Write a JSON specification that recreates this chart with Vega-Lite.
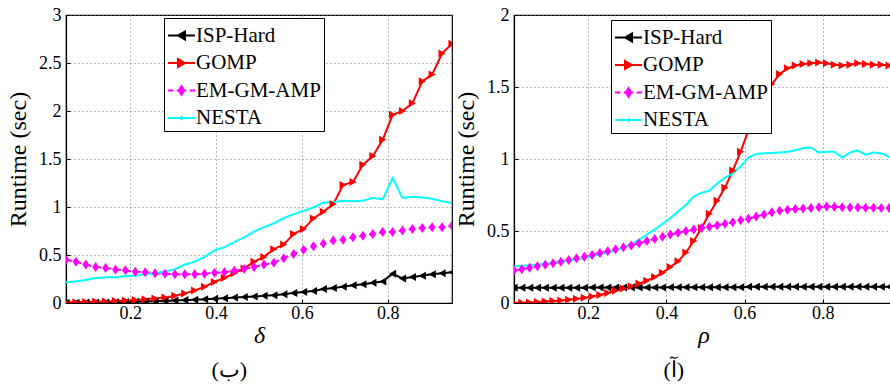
{
  "$schema": "https://vega.github.io/schema/vega-lite/v6.json",
  "padding": {"left": 5, "top": 5, "right": 0, "bottom": 0},
  "bounds": "flush",
  "spacing": 62,
  "background": "white",
  "datasets": {
    "L": [
      {"method":"ISP-Hard","x":0.05,"y":0.003},{"method":"ISP-Hard","x":0.0731,"y":0.003},{"method":"ISP-Hard","x":0.0962,"y":0.004},{"method":"ISP-Hard","x":0.1192,"y":0.005},{"method":"ISP-Hard","x":0.1423,"y":0.006},{"method":"ISP-Hard","x":0.1654,"y":0.008},{"method":"ISP-Hard","x":0.1885,"y":0.010},{"method":"ISP-Hard","x":0.2115,"y":0.013},{"method":"ISP-Hard","x":0.2346,"y":0.016},{"method":"ISP-Hard","x":0.2577,"y":0.019},{"method":"ISP-Hard","x":0.2808,"y":0.022},{"method":"ISP-Hard","x":0.3038,"y":0.026},{"method":"ISP-Hard","x":0.3269,"y":0.030},{"method":"ISP-Hard","x":0.35,"y":0.034},{"method":"ISP-Hard","x":0.3731,"y":0.038},{"method":"ISP-Hard","x":0.3962,"y":0.045},{"method":"ISP-Hard","x":0.4192,"y":0.050},{"method":"ISP-Hard","x":0.4423,"y":0.056},{"method":"ISP-Hard","x":0.4654,"y":0.062},{"method":"ISP-Hard","x":0.4885,"y":0.068},{"method":"ISP-Hard","x":0.5115,"y":0.075},{"method":"ISP-Hard","x":0.5346,"y":0.082},{"method":"ISP-Hard","x":0.5577,"y":0.090},{"method":"ISP-Hard","x":0.5808,"y":0.105},{"method":"ISP-Hard","x":0.6038,"y":0.115},{"method":"ISP-Hard","x":0.6269,"y":0.125},{"method":"ISP-Hard","x":0.65,"y":0.145},{"method":"ISP-Hard","x":0.6731,"y":0.155},{"method":"ISP-Hard","x":0.6962,"y":0.17},{"method":"ISP-Hard","x":0.7192,"y":0.185},{"method":"ISP-Hard","x":0.7423,"y":0.195},{"method":"ISP-Hard","x":0.7654,"y":0.21},{"method":"ISP-Hard","x":0.7885,"y":0.225},{"method":"ISP-Hard","x":0.8115,"y":0.305},{"method":"ISP-Hard","x":0.8346,"y":0.255},{"method":"ISP-Hard","x":0.8577,"y":0.27},{"method":"ISP-Hard","x":0.8808,"y":0.285},{"method":"ISP-Hard","x":0.9038,"y":0.30},{"method":"ISP-Hard","x":0.9269,"y":0.31},{"method":"ISP-Hard","x":0.95,"y":0.32},
      {"method":"GOMP","x":0.05,"y":0.007},{"method":"GOMP","x":0.0731,"y":0.009},{"method":"GOMP","x":0.0962,"y":0.011},{"method":"GOMP","x":0.1192,"y":0.013},{"method":"GOMP","x":0.1423,"y":0.016},{"method":"GOMP","x":0.1654,"y":0.02},{"method":"GOMP","x":0.1885,"y":0.025},{"method":"GOMP","x":0.2115,"y":0.03},{"method":"GOMP","x":0.2346,"y":0.04},{"method":"GOMP","x":0.2577,"y":0.048},{"method":"GOMP","x":0.2808,"y":0.058},{"method":"GOMP","x":0.3038,"y":0.075},{"method":"GOMP","x":0.3269,"y":0.10},{"method":"GOMP","x":0.35,"y":0.13},{"method":"GOMP","x":0.3731,"y":0.17},{"method":"GOMP","x":0.3962,"y":0.22},{"method":"GOMP","x":0.4192,"y":0.26},{"method":"GOMP","x":0.4423,"y":0.31},{"method":"GOMP","x":0.4654,"y":0.36},{"method":"GOMP","x":0.4885,"y":0.43},{"method":"GOMP","x":0.5115,"y":0.48},{"method":"GOMP","x":0.5346,"y":0.56},{"method":"GOMP","x":0.5577,"y":0.61},{"method":"GOMP","x":0.5808,"y":0.72},{"method":"GOMP","x":0.6038,"y":0.77},{"method":"GOMP","x":0.6269,"y":0.88},{"method":"GOMP","x":0.65,"y":0.95},{"method":"GOMP","x":0.6731,"y":1.03},{"method":"GOMP","x":0.6962,"y":1.23},{"method":"GOMP","x":0.7192,"y":1.26},{"method":"GOMP","x":0.7423,"y":1.44},{"method":"GOMP","x":0.7654,"y":1.53},{"method":"GOMP","x":0.7885,"y":1.70},{"method":"GOMP","x":0.8115,"y":1.96},{"method":"GOMP","x":0.8346,"y":2.0},{"method":"GOMP","x":0.8577,"y":2.08},{"method":"GOMP","x":0.8808,"y":2.31},{"method":"GOMP","x":0.9038,"y":2.38},{"method":"GOMP","x":0.9269,"y":2.60},{"method":"GOMP","x":0.95,"y":2.70},
      {"method":"EM-GM-AMP","x":0.05,"y":0.45},{"method":"EM-GM-AMP","x":0.0731,"y":0.43},{"method":"EM-GM-AMP","x":0.0962,"y":0.40},{"method":"EM-GM-AMP","x":0.1192,"y":0.375},{"method":"EM-GM-AMP","x":0.1423,"y":0.365},{"method":"EM-GM-AMP","x":0.1654,"y":0.35},{"method":"EM-GM-AMP","x":0.1885,"y":0.34},{"method":"EM-GM-AMP","x":0.2115,"y":0.325},{"method":"EM-GM-AMP","x":0.2346,"y":0.32},{"method":"EM-GM-AMP","x":0.2577,"y":0.31},{"method":"EM-GM-AMP","x":0.2808,"y":0.305},{"method":"EM-GM-AMP","x":0.3038,"y":0.30},{"method":"EM-GM-AMP","x":0.3269,"y":0.30},{"method":"EM-GM-AMP","x":0.35,"y":0.30},{"method":"EM-GM-AMP","x":0.3731,"y":0.305},{"method":"EM-GM-AMP","x":0.3962,"y":0.315},{"method":"EM-GM-AMP","x":0.4192,"y":0.32},{"method":"EM-GM-AMP","x":0.4423,"y":0.335},{"method":"EM-GM-AMP","x":0.4654,"y":0.355},{"method":"EM-GM-AMP","x":0.4885,"y":0.375},{"method":"EM-GM-AMP","x":0.5115,"y":0.40},{"method":"EM-GM-AMP","x":0.5346,"y":0.42},{"method":"EM-GM-AMP","x":0.5577,"y":0.465},{"method":"EM-GM-AMP","x":0.5808,"y":0.51},{"method":"EM-GM-AMP","x":0.6038,"y":0.555},{"method":"EM-GM-AMP","x":0.6269,"y":0.59},{"method":"EM-GM-AMP","x":0.65,"y":0.62},{"method":"EM-GM-AMP","x":0.6731,"y":0.65},{"method":"EM-GM-AMP","x":0.6962,"y":0.66},{"method":"EM-GM-AMP","x":0.7192,"y":0.685},{"method":"EM-GM-AMP","x":0.7423,"y":0.70},{"method":"EM-GM-AMP","x":0.7654,"y":0.72},{"method":"EM-GM-AMP","x":0.7885,"y":0.74},{"method":"EM-GM-AMP","x":0.8115,"y":0.74},{"method":"EM-GM-AMP","x":0.8346,"y":0.755},{"method":"EM-GM-AMP","x":0.8577,"y":0.77},{"method":"EM-GM-AMP","x":0.8808,"y":0.78},{"method":"EM-GM-AMP","x":0.9038,"y":0.79},{"method":"EM-GM-AMP","x":0.9269,"y":0.79},{"method":"EM-GM-AMP","x":0.95,"y":0.805},
      {"method":"NESTA","x":0.05,"y":0.215},{"method":"NESTA","x":0.0731,"y":0.225},{"method":"NESTA","x":0.0962,"y":0.24},{"method":"NESTA","x":0.1192,"y":0.26},{"method":"NESTA","x":0.1423,"y":0.267},{"method":"NESTA","x":0.1654,"y":0.267},{"method":"NESTA","x":0.1885,"y":0.28},{"method":"NESTA","x":0.2115,"y":0.285},{"method":"NESTA","x":0.2346,"y":0.30},{"method":"NESTA","x":0.2577,"y":0.31},{"method":"NESTA","x":0.2808,"y":0.33},{"method":"NESTA","x":0.3038,"y":0.35},{"method":"NESTA","x":0.3269,"y":0.40},{"method":"NESTA","x":0.35,"y":0.43},{"method":"NESTA","x":0.3731,"y":0.48},{"method":"NESTA","x":0.3962,"y":0.55},{"method":"NESTA","x":0.4192,"y":0.58},{"method":"NESTA","x":0.4423,"y":0.635},{"method":"NESTA","x":0.4654,"y":0.685},{"method":"NESTA","x":0.4885,"y":0.745},{"method":"NESTA","x":0.5115,"y":0.79},{"method":"NESTA","x":0.5346,"y":0.83},{"method":"NESTA","x":0.5577,"y":0.885},{"method":"NESTA","x":0.5808,"y":0.925},{"method":"NESTA","x":0.6038,"y":0.96},{"method":"NESTA","x":0.6269,"y":0.995},{"method":"NESTA","x":0.65,"y":1.045},{"method":"NESTA","x":0.6731,"y":1.05},{"method":"NESTA","x":0.6962,"y":1.065},{"method":"NESTA","x":0.7192,"y":1.06},{"method":"NESTA","x":0.7423,"y":1.065},{"method":"NESTA","x":0.7654,"y":1.095},{"method":"NESTA","x":0.7885,"y":1.08},{"method":"NESTA","x":0.8115,"y":1.30},{"method":"NESTA","x":0.8346,"y":1.095},{"method":"NESTA","x":0.8577,"y":1.105},{"method":"NESTA","x":0.8808,"y":1.10},{"method":"NESTA","x":0.9038,"y":1.085},{"method":"NESTA","x":0.9269,"y":1.06},{"method":"NESTA","x":0.95,"y":1.04}
    ],
    "R": [
      {"method":"ISP-Hard","x":0.01,"y":0.106},{"method":"ISP-Hard","x":0.03,"y":0.106},{"method":"ISP-Hard","x":0.05,"y":0.106},{"method":"ISP-Hard","x":0.07,"y":0.106},{"method":"ISP-Hard","x":0.09,"y":0.106},{"method":"ISP-Hard","x":0.11,"y":0.106},{"method":"ISP-Hard","x":0.13,"y":0.106},{"method":"ISP-Hard","x":0.15,"y":0.106},{"method":"ISP-Hard","x":0.17,"y":0.106},{"method":"ISP-Hard","x":0.19,"y":0.106},{"method":"ISP-Hard","x":0.21,"y":0.108},{"method":"ISP-Hard","x":0.23,"y":0.108},{"method":"ISP-Hard","x":0.25,"y":0.108},{"method":"ISP-Hard","x":0.27,"y":0.108},{"method":"ISP-Hard","x":0.29,"y":0.108},{"method":"ISP-Hard","x":0.31,"y":0.108},{"method":"ISP-Hard","x":0.33,"y":0.108},{"method":"ISP-Hard","x":0.35,"y":0.108},{"method":"ISP-Hard","x":0.37,"y":0.108},{"method":"ISP-Hard","x":0.39,"y":0.108},{"method":"ISP-Hard","x":0.41,"y":0.110},{"method":"ISP-Hard","x":0.43,"y":0.110},{"method":"ISP-Hard","x":0.45,"y":0.110},{"method":"ISP-Hard","x":0.47,"y":0.110},{"method":"ISP-Hard","x":0.49,"y":0.110},{"method":"ISP-Hard","x":0.51,"y":0.110},{"method":"ISP-Hard","x":0.53,"y":0.110},{"method":"ISP-Hard","x":0.55,"y":0.110},{"method":"ISP-Hard","x":0.57,"y":0.110},{"method":"ISP-Hard","x":0.59,"y":0.110},{"method":"ISP-Hard","x":0.61,"y":0.112},{"method":"ISP-Hard","x":0.63,"y":0.112},{"method":"ISP-Hard","x":0.65,"y":0.112},{"method":"ISP-Hard","x":0.67,"y":0.112},{"method":"ISP-Hard","x":0.69,"y":0.112},{"method":"ISP-Hard","x":0.71,"y":0.112},{"method":"ISP-Hard","x":0.73,"y":0.112},{"method":"ISP-Hard","x":0.75,"y":0.112},{"method":"ISP-Hard","x":0.77,"y":0.112},{"method":"ISP-Hard","x":0.79,"y":0.112},{"method":"ISP-Hard","x":0.81,"y":0.113},{"method":"ISP-Hard","x":0.83,"y":0.113},{"method":"ISP-Hard","x":0.85,"y":0.113},{"method":"ISP-Hard","x":0.87,"y":0.113},{"method":"ISP-Hard","x":0.89,"y":0.113},{"method":"ISP-Hard","x":0.91,"y":0.113},{"method":"ISP-Hard","x":0.93,"y":0.113},{"method":"ISP-Hard","x":0.95,"y":0.113},{"method":"ISP-Hard","x":0.97,"y":0.113},{"method":"ISP-Hard","x":0.99,"y":0.113},
      {"method":"GOMP","x":0.01,"y":0.0},{"method":"GOMP","x":0.03,"y":0.002},{"method":"GOMP","x":0.05,"y":0.004},{"method":"GOMP","x":0.07,"y":0.007},{"method":"GOMP","x":0.09,"y":0.010},{"method":"GOMP","x":0.11,"y":0.014},{"method":"GOMP","x":0.13,"y":0.018},{"method":"GOMP","x":0.15,"y":0.023},{"method":"GOMP","x":0.17,"y":0.029},{"method":"GOMP","x":0.19,"y":0.036},{"method":"GOMP","x":0.21,"y":0.045},{"method":"GOMP","x":0.23,"y":0.056},{"method":"GOMP","x":0.25,"y":0.07},{"method":"GOMP","x":0.27,"y":0.085},{"method":"GOMP","x":0.29,"y":0.10},{"method":"GOMP","x":0.31,"y":0.117},{"method":"GOMP","x":0.33,"y":0.135},{"method":"GOMP","x":0.35,"y":0.155},{"method":"GOMP","x":0.37,"y":0.18},{"method":"GOMP","x":0.39,"y":0.21},{"method":"GOMP","x":0.41,"y":0.25},{"method":"GOMP","x":0.43,"y":0.29},{"method":"GOMP","x":0.45,"y":0.35},{"method":"GOMP","x":0.47,"y":0.43},{"method":"GOMP","x":0.49,"y":0.52},{"method":"GOMP","x":0.51,"y":0.62},{"method":"GOMP","x":0.53,"y":0.71},{"method":"GOMP","x":0.55,"y":0.80},{"method":"GOMP","x":0.57,"y":0.92},{"method":"GOMP","x":0.59,"y":1.05},{"method":"GOMP","x":0.61,"y":1.2},{"method":"GOMP","x":0.63,"y":1.33},{"method":"GOMP","x":0.65,"y":1.43},{"method":"GOMP","x":0.67,"y":1.52},{"method":"GOMP","x":0.69,"y":1.59},{"method":"GOMP","x":0.71,"y":1.63},{"method":"GOMP","x":0.73,"y":1.65},{"method":"GOMP","x":0.75,"y":1.66},{"method":"GOMP","x":0.77,"y":1.665},{"method":"GOMP","x":0.79,"y":1.67},{"method":"GOMP","x":0.81,"y":1.665},{"method":"GOMP","x":0.83,"y":1.655},{"method":"GOMP","x":0.85,"y":1.65},{"method":"GOMP","x":0.87,"y":1.655},{"method":"GOMP","x":0.89,"y":1.665},{"method":"GOMP","x":0.91,"y":1.66},{"method":"GOMP","x":0.93,"y":1.655},{"method":"GOMP","x":0.95,"y":1.655},{"method":"GOMP","x":0.97,"y":1.65},{"method":"GOMP","x":0.99,"y":1.65},
      {"method":"EM-GM-AMP","x":0.01,"y":0.225},{"method":"EM-GM-AMP","x":0.03,"y":0.235},{"method":"EM-GM-AMP","x":0.05,"y":0.245},{"method":"EM-GM-AMP","x":0.07,"y":0.256},{"method":"EM-GM-AMP","x":0.09,"y":0.266},{"method":"EM-GM-AMP","x":0.11,"y":0.276},{"method":"EM-GM-AMP","x":0.13,"y":0.287},{"method":"EM-GM-AMP","x":0.15,"y":0.298},{"method":"EM-GM-AMP","x":0.17,"y":0.31},{"method":"EM-GM-AMP","x":0.19,"y":0.322},{"method":"EM-GM-AMP","x":0.21,"y":0.334},{"method":"EM-GM-AMP","x":0.23,"y":0.347},{"method":"EM-GM-AMP","x":0.25,"y":0.36},{"method":"EM-GM-AMP","x":0.27,"y":0.373},{"method":"EM-GM-AMP","x":0.29,"y":0.387},{"method":"EM-GM-AMP","x":0.31,"y":0.40},{"method":"EM-GM-AMP","x":0.33,"y":0.415},{"method":"EM-GM-AMP","x":0.35,"y":0.43},{"method":"EM-GM-AMP","x":0.37,"y":0.445},{"method":"EM-GM-AMP","x":0.39,"y":0.46},{"method":"EM-GM-AMP","x":0.41,"y":0.475},{"method":"EM-GM-AMP","x":0.43,"y":0.488},{"method":"EM-GM-AMP","x":0.45,"y":0.50},{"method":"EM-GM-AMP","x":0.47,"y":0.51},{"method":"EM-GM-AMP","x":0.49,"y":0.52},{"method":"EM-GM-AMP","x":0.51,"y":0.53},{"method":"EM-GM-AMP","x":0.53,"y":0.54},{"method":"EM-GM-AMP","x":0.55,"y":0.55},{"method":"EM-GM-AMP","x":0.57,"y":0.56},{"method":"EM-GM-AMP","x":0.59,"y":0.575},{"method":"EM-GM-AMP","x":0.61,"y":0.585},{"method":"EM-GM-AMP","x":0.63,"y":0.60},{"method":"EM-GM-AMP","x":0.65,"y":0.615},{"method":"EM-GM-AMP","x":0.67,"y":0.63},{"method":"EM-GM-AMP","x":0.69,"y":0.64},{"method":"EM-GM-AMP","x":0.71,"y":0.648},{"method":"EM-GM-AMP","x":0.73,"y":0.652},{"method":"EM-GM-AMP","x":0.75,"y":0.656},{"method":"EM-GM-AMP","x":0.77,"y":0.66},{"method":"EM-GM-AMP","x":0.79,"y":0.665},{"method":"EM-GM-AMP","x":0.81,"y":0.67},{"method":"EM-GM-AMP","x":0.83,"y":0.668},{"method":"EM-GM-AMP","x":0.85,"y":0.665},{"method":"EM-GM-AMP","x":0.87,"y":0.664},{"method":"EM-GM-AMP","x":0.89,"y":0.663},{"method":"EM-GM-AMP","x":0.91,"y":0.662},{"method":"EM-GM-AMP","x":0.93,"y":0.661},{"method":"EM-GM-AMP","x":0.95,"y":0.66},{"method":"EM-GM-AMP","x":0.97,"y":0.66},{"method":"EM-GM-AMP","x":0.99,"y":0.658},
      {"method":"NESTA","x":0.01,"y":0.254},{"method":"NESTA","x":0.03,"y":0.258},{"method":"NESTA","x":0.05,"y":0.262},{"method":"NESTA","x":0.07,"y":0.267},{"method":"NESTA","x":0.09,"y":0.273},{"method":"NESTA","x":0.11,"y":0.279},{"method":"NESTA","x":0.13,"y":0.286},{"method":"NESTA","x":0.15,"y":0.294},{"method":"NESTA","x":0.17,"y":0.303},{"method":"NESTA","x":0.19,"y":0.313},{"method":"NESTA","x":0.21,"y":0.324},{"method":"NESTA","x":0.23,"y":0.336},{"method":"NESTA","x":0.25,"y":0.35},{"method":"NESTA","x":0.27,"y":0.366},{"method":"NESTA","x":0.29,"y":0.385},{"method":"NESTA","x":0.31,"y":0.41},{"method":"NESTA","x":0.33,"y":0.44},{"method":"NESTA","x":0.35,"y":0.475},{"method":"NESTA","x":0.37,"y":0.51},{"method":"NESTA","x":0.39,"y":0.55},{"method":"NESTA","x":0.41,"y":0.59},{"method":"NESTA","x":0.43,"y":0.635},{"method":"NESTA","x":0.45,"y":0.68},{"method":"NESTA","x":0.47,"y":0.74},{"method":"NESTA","x":0.49,"y":0.765},{"method":"NESTA","x":0.51,"y":0.78},{"method":"NESTA","x":0.53,"y":0.83},{"method":"NESTA","x":0.55,"y":0.87},{"method":"NESTA","x":0.57,"y":0.90},{"method":"NESTA","x":0.59,"y":0.95},{"method":"NESTA","x":0.61,"y":1.01},{"method":"NESTA","x":0.63,"y":1.035},{"method":"NESTA","x":0.65,"y":1.04},{"method":"NESTA","x":0.67,"y":1.042},{"method":"NESTA","x":0.69,"y":1.045},{"method":"NESTA","x":0.71,"y":1.05},{"method":"NESTA","x":0.73,"y":1.06},{"method":"NESTA","x":0.75,"y":1.075},{"method":"NESTA","x":0.77,"y":1.08},{"method":"NESTA","x":0.79,"y":1.045},{"method":"NESTA","x":0.81,"y":1.05},{"method":"NESTA","x":0.83,"y":1.05},{"method":"NESTA","x":0.85,"y":1.01},{"method":"NESTA","x":0.87,"y":1.045},{"method":"NESTA","x":0.89,"y":1.06},{"method":"NESTA","x":0.91,"y":1.03},{"method":"NESTA","x":0.93,"y":1.045},{"method":"NESTA","x":0.95,"y":1.04},{"method":"NESTA","x":0.97,"y":1.015},{"method":"NESTA","x":0.99,"y":1.02}
    ]
  },
  "hconcat": [
    {
      "width": 386,
      "height": 288,
      "data": {"name": "L"},
      "title": {"text": "(ب)", "orient": "bottom", "frame": "bounds", "anchor": "middle", "offset": 13},
      "layer": [
        {
          "mark": {"type": "line", "strokeWidth": 2, "clip": true},
          "encoding": {
            "x": {"field": "x", "type": "quantitative", "scale": {"domain": [0.05, 0.95], "nice": false, "zero": false}, "axis": {"title": "δ", "values": [0.2, 0.4, 0.6, 0.8], "format": ".1f", "titleFontStyle": "italic", "titlePadding": 1}},
            "y": {"field": "y", "type": "quantitative", "scale": {"domain": [0, 3], "nice": false}, "axis": {"title": "Runtime (sec)", "values": [0, 0.5, 1, 1.5, 2, 2.5, 3], "format": "~g"}},
            "color": {"field": "method", "type": "nominal", "scale": {"domain": ["ISP-Hard", "GOMP", "EM-GM-AMP", "NESTA"], "range": ["#000000", "#ff0000", "#ff00ff", "#00ffff"]},
              "legend": {
                "title": null, "orient": "none", "legendX": 98, "legendY": 3,
                "labelFont": "Liberation Serif", "labelFontSize": 21, "labelColor": "#000000", "labelOffset": 0, "labelLimit": 300,
                "strokeColor": "#000000", "fillColor": "#ffffff", "padding": 3, "rowPadding": 2.5,
                "symbolSize": 729, "symbolStrokeWidth": 2, "symbolType": "M-1,0L1,0M-0.26,0L0.26,-0.3L0.26,0.3Z",
                "encode": {
                  "symbols": {"update": {
                    "shape": {"signal": "datum.value === 'ISP-Hard' ? 'M-1,0L1,0M-0.26,0L0.26,-0.3L0.26,0.3Z' : datum.value === 'GOMP' ? 'M-1,0L1,0M0.26,0L-0.26,-0.3L-0.26,0.3Z' : datum.value === 'EM-GM-AMP' ? 'M-1,0L-0.6,0M-0.35,0L-0.15,0M0.15,0L0.35,0M0.6,0L1,0M0,-0.32L0.2,0L0,0.32L-0.2,0Z' : 'M-1,0L1,0M0,-0.08L0.08,0L0,0.08L-0.08,0Z'"},
                    "fill": {"signal": "datum.value === 'ISP-Hard' ? '#000000' : datum.value === 'GOMP' ? '#ff0000' : datum.value === 'EM-GM-AMP' ? '#ff00ff' : '#00ffff'"},
                    "strokeWidth": {"value": 2},
                    "opacity": {"value": 1}
                  }}
                }
              }},
            "strokeDash": {"field": "method", "type": "nominal", "scale": {"domain": ["ISP-Hard", "GOMP", "EM-GM-AMP", "NESTA"], "range": [[1, 0], [1, 0], [6, 4], [1, 0]]}, "legend": null}
          }
        },
        {
          "transform": [{"filter": "datum.method !== 'NESTA'"}],
          "mark": {"type": "point", "filled": true, "opacity": 1, "size": 64, "strokeWidth": 0, "clip": true},
          "encoding": {
            "x": {"field": "x", "type": "quantitative"},
            "y": {"field": "y", "type": "quantitative"},
            "fill": {"field": "method", "type": "nominal", "scale": {"domain": ["ISP-Hard", "GOMP", "EM-GM-AMP"], "range": ["#000000", "#ff0000", "#ff00ff"]}, "legend": null},
            "shape": {"field": "method", "type": "nominal", "scale": {"domain": ["ISP-Hard", "GOMP", "EM-GM-AMP"], "range": ["M-0.9,0L0.9,-1L0.9,1Z", "M0.9,0L-0.9,-1L-0.9,1Z", "M0,-1.25L0.85,0L0,1.25L-0.85,0Z"]}, "legend": null}
          }
        }
      ]
    },
    {
      "width": 379,
      "height": 288,
      "data": {"name": "R"},
      "title": {"text": "(آ)", "orient": "bottom", "frame": "bounds", "anchor": "middle", "offset": 13},
      "layer": [
        {
          "mark": {"type": "line", "strokeWidth": 2, "clip": true},
          "encoding": {
            "x": {"field": "x", "type": "quantitative", "scale": {"domain": [0.01, 0.98], "nice": false, "zero": false}, "axis": {"title": "ρ", "values": [0.2, 0.4, 0.6, 0.8], "format": ".1f", "titleFontStyle": "italic", "titlePadding": 1}},
            "y": {"field": "y", "type": "quantitative", "scale": {"domain": [0, 2], "nice": false}, "axis": {"title": "Runtime (sec)", "values": [0, 0.5, 1, 1.5, 2], "format": "~g"}},
            "color": {"field": "method", "type": "nominal", "scale": {"domain": ["ISP-Hard", "GOMP", "EM-GM-AMP", "NESTA"], "range": ["#000000", "#ff0000", "#ff00ff", "#00ffff"]},
              "legend": {
                "title": null, "orient": "none", "legendX": 97, "legendY": 5,
                "labelFont": "Liberation Serif", "labelFontSize": 21, "labelColor": "#000000", "labelOffset": 0, "labelLimit": 300,
                "strokeColor": "#000000", "fillColor": "#ffffff", "padding": 3, "rowPadding": 2.5,
                "symbolSize": 729, "symbolStrokeWidth": 2, "symbolType": "M-1,0L1,0M-0.26,0L0.26,-0.3L0.26,0.3Z",
                "encode": {
                  "symbols": {"update": {
                    "shape": {"signal": "datum.value === 'ISP-Hard' ? 'M-1,0L1,0M-0.26,0L0.26,-0.3L0.26,0.3Z' : datum.value === 'GOMP' ? 'M-1,0L1,0M0.26,0L-0.26,-0.3L-0.26,0.3Z' : datum.value === 'EM-GM-AMP' ? 'M-1,0L-0.6,0M-0.35,0L-0.15,0M0.15,0L0.35,0M0.6,0L1,0M0,-0.32L0.2,0L0,0.32L-0.2,0Z' : 'M-1,0L1,0M0,-0.08L0.08,0L0,0.08L-0.08,0Z'"},
                    "fill": {"signal": "datum.value === 'ISP-Hard' ? '#000000' : datum.value === 'GOMP' ? '#ff0000' : datum.value === 'EM-GM-AMP' ? '#ff00ff' : '#00ffff'"},
                    "strokeWidth": {"value": 2},
                    "opacity": {"value": 1}
                  }}
                }
              }},
            "strokeDash": {"field": "method", "type": "nominal", "scale": {"domain": ["ISP-Hard", "GOMP", "EM-GM-AMP", "NESTA"], "range": [[1, 0], [1, 0], [6, 4], [1, 0]]}, "legend": null}
          }
        },
        {
          "transform": [{"filter": "datum.method !== 'NESTA'"}],
          "mark": {"type": "point", "filled": true, "opacity": 1, "size": 64, "strokeWidth": 0, "clip": true},
          "encoding": {
            "x": {"field": "x", "type": "quantitative"},
            "y": {"field": "y", "type": "quantitative"},
            "fill": {"field": "method", "type": "nominal", "scale": {"domain": ["ISP-Hard", "GOMP", "EM-GM-AMP"], "range": ["#000000", "#ff0000", "#ff00ff"]}, "legend": null},
            "shape": {"field": "method", "type": "nominal", "scale": {"domain": ["ISP-Hard", "GOMP", "EM-GM-AMP"], "range": ["M-0.9,0L0.9,-1L0.9,1Z", "M0.9,0L-0.9,-1L-0.9,1Z", "M0,-1.25L0.85,0L0,1.25L-0.85,0Z"]}, "legend": null}
          }
        }
      ]
    }
  ],
  "resolve": {"scale": {"color": "independent", "x": "independent", "y": "independent"}, "legend": {"color": "independent"}},
  "config": {
    "font": "Liberation Serif",
    "view": {"stroke": "#000000", "strokeWidth": 1.2},
    "axis": {
      "labelFont": "Liberation Serif", "labelFontSize": 18, "labelColor": "#000000",
      "titleFont": "Liberation Serif", "titleFontSize": 24, "titleFontWeight": "normal", "titleColor": "#000000",
      "domainColor": "#000000", "domainWidth": 1.2, "ticks": true, "tickSize": -4, "tickColor": "#000000", "tickWidth": 1, "labelPadding": 5, "titlePadding": 4,
      "grid": true, "gridColor": "#777777", "gridDash": [1, 3], "gridWidth": 1
    },
    "axisY": {"titlePadding": 8, "labelPadding": 9},
    "title": {"font": "Liberation Serif", "fontSize": 22, "fontWeight": "normal", "color": "#000000"}
  }
}
